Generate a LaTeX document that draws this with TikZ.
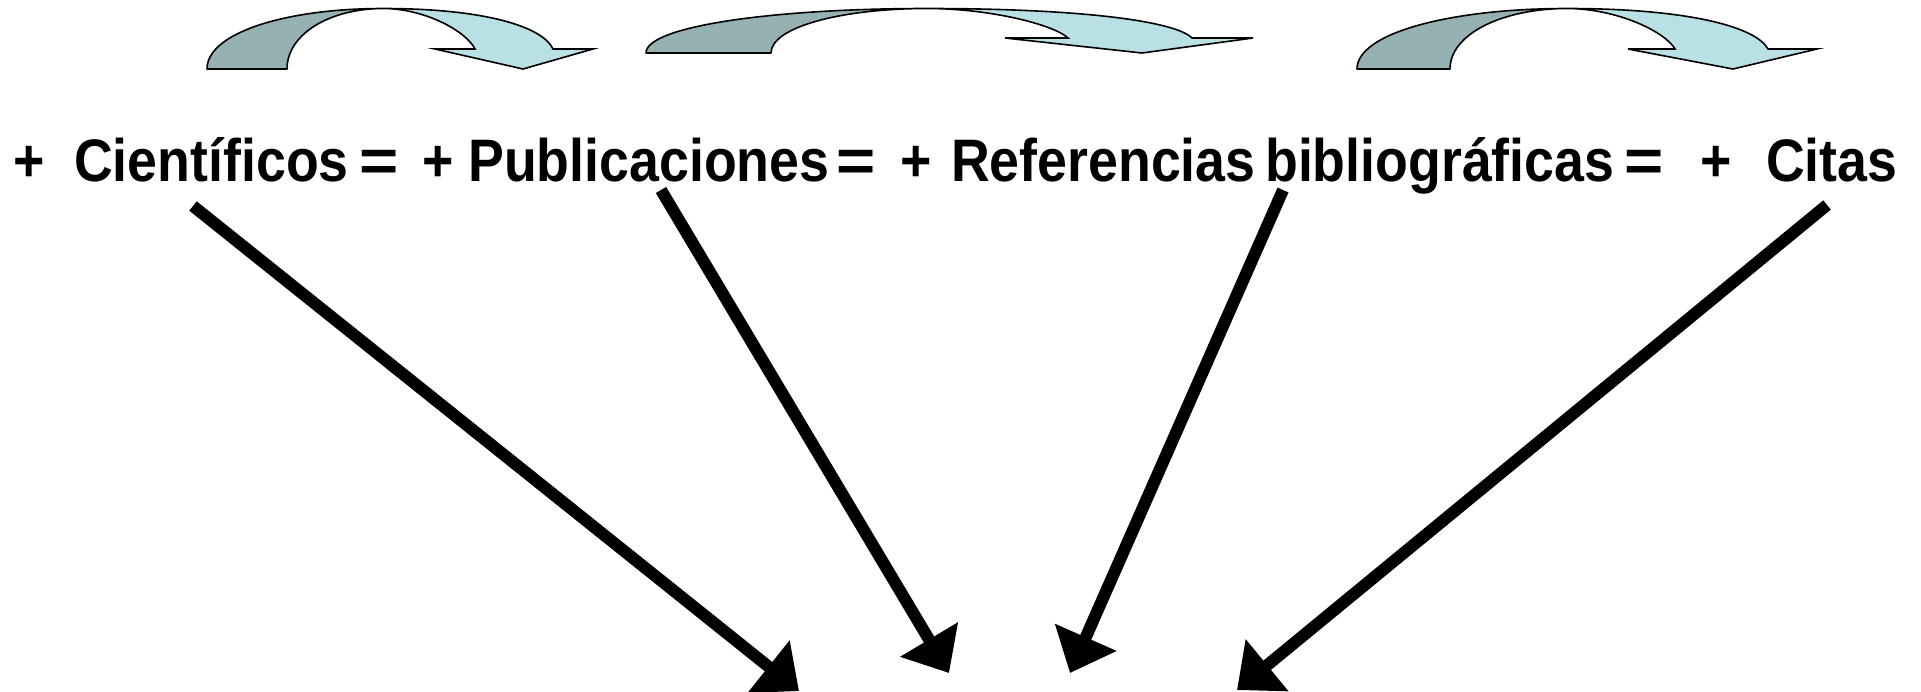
\documentclass[tikz,border=0pt]{standalone}
\usepackage{fontspec}
\setmainfont{Liberation Sans}
\usetikzlibrary{arrows.meta}
\definecolor{arrdark}{RGB}{149,177,180}
\definecolor{arrlight}{RGB}{185,224,228}
\newcommand\sqz[1]{\scalebox{0.895}[1]{#1}}
\newcommand\wideeq{\scalebox{1.12}[1]{=}}
% #1 L, #2 T, #3 yb, #4 C, #5 yt, #6 B1, #7 N, #8 S, #9 yh; \myB right barb, \myP tip
\newcommand\myCurvArrow[9]{%
  \draw[curvdark] (#1,#3) .. controls (#1,{#3-0.6*(#3-#5)}) and ({#4-0.55*(#4-#1)},#5) .. (#4,#5)
     .. controls ({#4-0.55*(#4-#2)},#5) and (#2,{#3-0.58*(#3-#5)}) .. (#2,#3) -- cycle;
  \draw[curvlight] (#4,#5) .. controls ({#4+0.6*(#8-#4)},#5) and ({#8-0.06*(#8-#4)},{#9-0.55*(#9-#5)}) .. (#8,#9)
     -- (\myB,#9) -- (\myP,#3) -- (#6,#9) -- (#7,#9)
     .. controls ({#7-0.1*(#7-#4)},{#9-0.45*(#9-#5)}) and ({#4+0.45*(#7-#4)},#5) .. (#4,#5) -- cycle;
}
\begin{document}
\begin{tikzpicture}[x=1pt,y=-1pt,
  word/.style={anchor=base west,inner sep=0pt,font=\fontsize{60}{62}\selectfont\bfseries},
  curvdark/.style={fill=arrdark,draw=black,line width=1.6pt,line join=round},
  curvlight/.style={fill=arrlight,draw=black,line width=1.6pt,line join=miter},
  bigarrow/.style={line width=12pt,-{Triangle[length=39pt,width=65pt]}}]
\useasboundingbox (0,0) rectangle (1921,691);
% curved arrows
\def\myB{593}\def\myP{523}
\myCurvArrow{207}{287}{69}{383}{8.5}{435}{475}{553}{49}
\def\myB{1253}\def\myP{1142}
\myCurvArrow{646}{771}{53}{927}{8.5}{1005}{1068}{1192}{38}
\def\myB{1817}\def\myP{1733}
\myCurvArrow{1357}{1450}{69}{1567}{8.5}{1628}{1675}{1768}{49}
% text
\node[word] (p1) at (13,181) {\sqz{+}};
\node[word] (w1) at (74,181) {\sqz{Científicos}};
\node[word] (e1) at (359,181) {\wideeq};
\node[word] (p2) at (422,181) {\sqz{+}};
\node[word] (w2) at (468,181) {\sqz{Publicaciones}};
\node[word] (e2) at (836,181) {\wideeq};
\node[word] (p3) at (900,181) {\sqz{+}};
\node[word] (w3) at (951,181) {\sqz{Referencias}};
\node[word] (w4) at (1265,181) {\sqz{bibliográficas}};
\node[word] (e3) at (1624,181) {\wideeq};
\node[word] (p4) at (1700,181) {\sqz{+}};
\node[word] (w5) at (1766,181) {\sqz{Citas}};
% straight arrows
\coordinate (s1) at (193,206);  \coordinate (d1) at (799,691);
\coordinate (s2) at (661,190);  \coordinate (d2) at (949,673);
\coordinate (s3) at (1283,190); \coordinate (d3) at (1070,673);
\coordinate (s4) at (1827,205); \coordinate (d4) at (1237,690);
\draw[bigarrow] (s1) -- (d1);
\draw[bigarrow] (s2) -- (d2);
\draw[bigarrow] (s3) -- (d3);
\draw[bigarrow] (s4) -- (d4);
\end{tikzpicture}
\end{document}
